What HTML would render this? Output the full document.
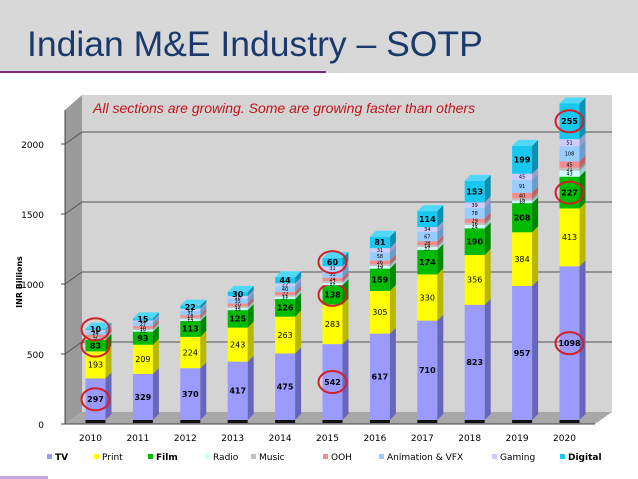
<!DOCTYPE html>
<html><head><meta charset="utf-8"><style>
html,body{margin:0;padding:0;width:638px;height:479px;overflow:hidden;background:#fff;font-family:"Liberation Sans",sans-serif}
</style></head><body>
<svg id="svg" width="638" height="479" viewBox="0 0 638 479" xmlns="http://www.w3.org/2000/svg">
<rect x="0" y="0" width="638" height="73" fill="#d8d8d8"/>
<rect x="0" y="71" width="326" height="2" fill="#7a2a7a"/>
<text x="27" y="56" font-size="35.5" fill="#1b3a6b" font-family="Liberation Sans,sans-serif">Indian M&amp;E Industry – SOTP</text>
<polygon points="82,95 612,95 612,412 82,412" fill="#d4d4d4"/>
<polygon points="65,110 82,95 82,412 65,424" fill="#9a9a9a"/>
<polygon points="65,424 82,412 612,412 595,424" fill="#a8a8a8"/>
<g id="grid"></g>
<text x="93" y="113" font-size="14" font-style="italic" fill="#c0151b">All sections are growing. Some are growing faster than others</text>
<text transform="translate(22,282) rotate(-90)" font-size="8" font-weight="bold" text-anchor="middle" fill="#000" font-family="DejaVu Sans,sans-serif">INR Billions</text>
<g id="bars"></g>
<g id="legend"></g>
<rect x="0" y="476" width="48" height="3" fill="#c8a8d8"/>
</svg>
<script>
const years=["2010","2011","2012","2013","2014","2015","2016","2017","2018","2019","2020"];
const tv=[297,329,370,417,475,542,617,710,823,957,1098];
const print=[193,209,224,243,263,283,305,330,356,384,413];
const film=[83,93,113,125,126,138,159,174,190,208,227];
const radio=[10,12,13,15,17,17,19,21,24,18,43];
const music=[9,10,11,12,11,12,13,14,16,16,21];
const ooh=[17,18,18,20,22,24,26,28,29,40,45];
const anim=[24,27,31,35,40,51,58,67,78,91,108];
const gaming=[10,13,15,18,22,31,31,34,39,45,51];
const digital=[10,15,22,30,44,60,81,114,153,199,255];
const yTicks=[0,500,1000,1500,2000];
const seriesNames=["TV","Print","Film","Radio","Music","OOH","Animation & VFX","Gaming","Digital"];
const series=[tv,print,film,radio,music,ooh,anim,gaming,digital];
const colors=["#9a9aff","#ffff00","#00bb00","#ccffff","#c0c0c0","#f08c8c","#99ccff","#ccccff","#18c8f0"];
const sides=["#6666bb","#b8b800","#008800","#99cccc","#909090","#c06060","#6c9cc8","#9c9cc8","#0c90b0"];
const tops=["#b8b8ff","#ffff80","#40d840","#e0ffff","#d8d8d8","#f8b0b0","#bbddff","#ddddff","#50d8f8"];
const boldSeries=[true,false,true,false,false,false,false,false,true];
const circled={0:[0,2,8],5:[0,2,8],10:[0,2,8]};
const NS="http://www.w3.org/2000/svg";
const Y0=424,K=0.14,BY0=420;
function yF(v){return Y0-v*K;}
function yB(v){return BY0-v*K;}
function xF(i){return 95.5+i*47.4;}
function mk(t,a,p){const e=document.createElementNS(NS,t);for(const k in a)e.setAttribute(k,a[k]);p.appendChild(e);return e;}
const grid=document.getElementById('grid');
yTicks.forEach(v=>{
  const y=yF(v);
  if(v>0){const l=mk('polyline',{points:`65,${y} 82,${y-12} 612,${y-12}`,fill:'none',stroke:'#555','stroke-width':1},grid);
  
  }
  mk('line',{x1:61,y1:y,x2:65,y2:y,stroke:'#444'},grid);
  const t=mk('text',{x:44,y:y+4,'font-size':9,'text-anchor':'end',fill:'#000','font-family':'DejaVu Sans,sans-serif'},grid);
  t.textContent=v;
  
  
});
const ax=mk('line',{x1:65,y1:Y0,x2:595,y2:Y0,stroke:'#444'},grid);


const ax2=mk('line',{x1:65,y1:110,x2:65,y2:Y0,stroke:'#444'},grid);


const bars=document.getElementById('bars');
const W=20,D=6;
years.forEach((yr,i)=>{
  const cx=xF(i),x0=cx-W/2;
  const g=mk('g',{},bars);
  
  
  let cum=0;
  series.forEach((s,j)=>{
    const v=s[i],yb=yB(cum),yt=yB(cum+v);cum+=v;
    const f=mk('rect',{x:x0,y:yt,width:W,height:yb-yt,fill:colors[j]},g);
    
    
    mk('polygon',{points:`${x0+W},${yt} ${x0+W+D},${yt-D} ${x0+W+D},${yb-D} ${x0+W},${yb}`,fill:sides[j]},g);
    if(j===series.length-1)mk('polygon',{points:`${x0},${yt} ${x0+D},${yt-D} ${x0+W+D},${yt-D} ${x0+W},${yt}`,fill:tops[j]},g);
    const big=boldSeries[j]||j===1;
    const fs=big?8:5;
    const t=mk('text',{x:cx,y:(yt+yb)/2+fs*0.35,'font-size':fs,'text-anchor':'middle',fill:'#000','font-weight':boldSeries[j]?'bold':'normal','font-family':'DejaVu Sans,sans-serif'},g);
    t.textContent=v;
    
    
    if(circled[i]&&circled[i].includes(j)){
      const c=mk('ellipse',{cx:cx,cy:(yt+yb)/2,rx:14,ry:11,fill:'none',stroke:'#d0202a','stroke-width':2},g);
      
      
    }
  });
  mk('rect',{x:x0,y:BY0,width:W,height:3,fill:'#111'},g);
  const lt=mk('text',{x:xF(i)-5,y:441,'font-size':9,'text-anchor':'middle',fill:'#000','font-family':'DejaVu Sans,sans-serif'},bars);
  lt.textContent=yr;
  
  
});
const legend=document.getElementById('legend');
const lx=[47,94,148,205,251,323,379,492,560];
seriesNames.forEach((n,j)=>{
  const g=mk('g',{},legend);
  
  
  mk('rect',{x:lx[j],y:454,width:5,height:5,fill:colors[j]},g);
  const t=mk('text',{x:lx[j]+8,y:460,'font-size':9,fill:'#000','font-weight':boldSeries[j]?'bold':'normal','font-family':'DejaVu Sans,sans-serif'},g);
  t.textContent=n;
});
</script>
</body></html>
